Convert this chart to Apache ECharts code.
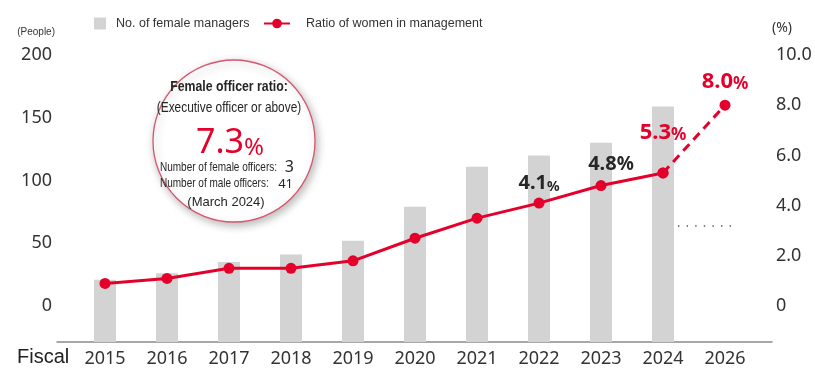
<!DOCTYPE html>
<html>
<head>
<meta charset="utf-8">
<script src="https://cdn.jsdelivr.net/npm/echarts@6/dist/echarts.min.js"></script>
<style>
  html, body { margin: 0; padding: 0; background: #ffffff; }
  #chart { width: 815px; height: 369px; }
</style>
</head>
<body>
<div id="chart"></div>
<script>
// Fiscal years on the category axis (2025 is not shown)
const fiscalYears = ['2015', '2016', '2017', '2018', '2019', '2020', '2021', '2022', '2023', '2024', '2026'];
// Number of female managers (people)
const femaleManagers = [21, 26, 35, 41, 52, 79, 111, 120, 130, 159, null];
// Ratio of women in management (%), results
const womenRatio = [0.9, 1.1, 1.5, 1.5, 1.8, 2.7, 3.5, 4.1, 4.8, 5.3, null];
// Ratio of women in management (%), path to the 2026 target
const womenRatioTarget = [null, null, null, null, null, null, null, null, null, 5.3, 8.0];
// Tick labels
const peopleTicks = [0, 50, 100, 150, 200];
const percentTicks = [0, 2, 4, 6, 8, 10];

const RED = '#e4002b';
const BAR = '#d3d3d3';
const DARK = '#262626';
const LIB = '"Liberation Sans", Arial, sans-serif';
const SANS = '"Noto Sans", "Open Sans", sans-serif';
const NARROW_SCALE = 0.82; // condensed look for the callout text

// Value labels shown above selected points
const labelStyles = {
  '2022': { cls: 'dark', pct: 'dsmall', offset: [0, 1] },
  '2023': { cls: 'dark', pct: 'dbig', offset: [10, -1] },
  '2024': { cls: 'red', pct: 'rsmall', offset: [0, -19] },
  '2026': { cls: 'red', pct: 'rsmall', offset: [0, -2] }
};
const richStyles = {
  dark:   { fontFamily: SANS, fontSize: 20, fontWeight: 'bold', color: DARK, verticalAlign: 'bottom', lineHeight: 24 },
  dsmall: { fontFamily: SANS, fontSize: 14, fontWeight: 'bold', color: DARK, verticalAlign: 'bottom', lineHeight: 22 },
  dbig:   { fontFamily: SANS, fontSize: 19, fontWeight: 'bold', color: DARK, verticalAlign: 'bottom', lineHeight: 24 },
  red:    { fontFamily: SANS, fontSize: 22, fontWeight: 'bold', color: RED, verticalAlign: 'bottom', lineHeight: 26 },
  rsmall: { fontFamily: SANS, fontSize: 17, fontWeight: 'bold', color: RED, verticalAlign: 'bottom', lineHeight: 25 }
};

function withLabels(values) {
  return values.map((v, i) => {
    const st = labelStyles[fiscalYears[i]];
    if (v == null || !st) return v;
    return {
      value: v,
      label: {
        show: true,
        position: 'top',
        offset: st.offset,
        formatter: '{' + st.cls + '|' + v.toFixed(1) + '}{' + st.pct + '|%}',
        rich: richStyles
      }
    };
  });
}

const solidData = withLabels(womenRatio);
const labelledTarget = withLabels(womenRatioTarget);
// the 2024 point already carries its label on the solid line
const targetData = womenRatioTarget.map((v, i) => (i === womenRatioTarget.length - 1 ? labelledTarget[i] : v));

function calloutText(x, y, text, size, opts) {
  opts = opts || {};
  return {
    type: 'text', x: x, y: y,
    scaleX: opts.narrow === false ? 1 : NARROW_SCALE,
    style: {
      text: text,
      fontFamily: opts.family || LIB,
      fontWeight: opts.bold ? 'bold' : 'normal',
      fontSize: size,
      fill: DARK,
      align: opts.align || 'center',
      verticalAlign: 'middle'
    }
  };
}

const chart = echarts.init(document.getElementById('chart'), null, { renderer: 'canvas' });

chart.setOption({
  animation: false,
  backgroundColor: '#ffffff',
  legend: [
    {
      left: 89, top: 12,
      itemWidth: 22, itemHeight: 12,
      data: [{ name: 'No. of female managers', icon: 'path://M0,0H12V12H0Z' }],
      textStyle: { fontFamily: LIB, fontSize: 12.5, color: '#333' },
      selectedMode: false
    },
    {
      left: 258, top: 12,
      itemWidth: 26, itemHeight: 12,
      data: ['Ratio of women in management'],
      textStyle: { fontFamily: LIB, fontSize: 12.5, color: '#333', padding: [0, 0, 0, 11] },
      selectedMode: false
    }
  ],
  grid: [
    { left: 74, right: 59, top: 55, bottom: 27 },
    { left: 57, right: 43, top: 55, bottom: 27 }
  ],
  xAxis: [
    {
      type: 'category',
      gridIndex: 0,
      data: fiscalYears,
      boundaryGap: true,
      axisLine: { show: false },
      axisTick: { show: false },
      axisLabel: { fontFamily: SANS, fontSize: 18, color: '#333', margin: 8 }
    },
    {
      type: 'value',
      gridIndex: 1,
      min: 0, max: 1,
      axisLine: { show: true, onZero: false, lineStyle: { color: '#8a8a8a', width: 1.5 } },
      axisTick: { show: false },
      axisLabel: { show: false },
      splitLine: { show: false }
    }
  ],
  yAxis: [
    {
      type: 'value',
      gridIndex: 0,
      min: -28.7, max: 200,
      name: '(People)',
      nameLocation: 'end',
      nameGap: 18,
      nameTextStyle: { fontFamily: LIB, fontSize: 10, color: '#333', align: 'right', padding: [0, 19, 0, 0] },
      axisLine: { show: false },
      axisTick: { show: false },
      splitLine: { show: false },
      axisLabel: { customValues: peopleTicks, fontFamily: SANS, fontSize: 18, color: '#333', margin: 22 }
    },
    {
      type: 'value',
      gridIndex: 0,
      position: 'right',
      min: -1.434, max: 10,
      name: '(%)',
      nameLocation: 'end',
      nameGap: 20,
      nameTextStyle: { fontFamily: SANS, fontSize: 14, color: '#333', align: 'left', padding: [0, 0, 0, 16] },
      axisLine: { show: false },
      axisTick: { show: false },
      splitLine: { show: false },
      axisLabel: {
        customValues: percentTicks,
        fontFamily: SANS, fontSize: 18, color: '#333', margin: 20,
        formatter: v => (v === 0 ? '0' : v.toFixed(1))
      }
    },
    { type: 'value', gridIndex: 1, show: false, min: 0, max: 1 }
  ],
  series: [
    {
      name: 'No. of female managers',
      type: 'custom',
      xAxisIndex: 0,
      yAxisIndex: 0,
      itemStyle: { color: BAR },
      encode: { x: 0, y: 1 },
      data: femaleManagers
        .map((v, i) => [i, v])
        .filter(d => d[1] != null),
      // bars rise from the bottom of the plot area
      renderItem(params, api) {
        const top = api.coord([api.value(0), api.value(1)]);
        const baseY = params.coordSys.y + params.coordSys.height;
        const w = 22;
        return {
          type: 'rect',
          shape: { x: top[0] - w / 2, y: top[1], width: w, height: baseY - top[1] },
          style: { fill: BAR }
        };
      },
      z: 1
    },
    {
      name: 'Ratio of women in management',
      type: 'line',
      xAxisIndex: 0,
      yAxisIndex: 1,
      data: solidData,
      symbol: 'circle',
      symbolSize: 11,
      lineStyle: { color: RED, width: 3 },
      itemStyle: { color: RED },
      z: 4
    },
    {
      name: 'Target',
      type: 'line',
      xAxisIndex: 0,
      yAxisIndex: 1,
      data: targetData,
      symbol: 'circle',
      symbolSize: 11,
      lineStyle: { color: RED, width: 3, type: [9, 6] },
      itemStyle: { color: RED },
      z: 3
    }
  ],
  graphic: [
    // Fiscal prefix for the year axis
    {
      type: 'text', left: 17, top: 347,
      style: { text: 'Fiscal', fontFamily: LIB, fontSize: 20, fill: '#222' }
    },
    // dotted divider to the right of 2024
    {
      type: 'line', z: 5,
      shape: { x1: 678, y1: 226, x2: 731, y2: 226 },
      style: { stroke: '#555', lineWidth: 1.3, lineDash: [1.4, 7.2] }
    },
    // Female officer ratio callout
    {
      type: 'group', z: 10,
      children: [
        {
          type: 'circle',
          shape: { cx: 234, cy: 141, r: 81 },
          style: {
            fill: '#ffffff', stroke: '#d6566e', lineWidth: 1.3,
            shadowBlur: 9, shadowColor: 'rgba(0,0,0,0.28)', shadowOffsetX: 2, shadowOffsetY: 3
          }
        },
        calloutText(229, 87, 'Female officer ratio:', 15, { bold: true }),
        calloutText(229, 108, '(Executive officer or above)', 14.5),
        {
          type: 'text', x: 230, y: 140,
          style: {
            text: '{n|7.3}{p|%}', align: 'center', verticalAlign: 'middle', fill: RED,
            rich: {
              n: { fontFamily: SANS, fontSize: 34, fill: RED, verticalAlign: 'bottom', lineHeight: 40 },
              p: { fontFamily: SANS, fontSize: 24, fill: RED, verticalAlign: 'bottom', lineHeight: 37 }
            }
          }
        },
        calloutText(160, 168, 'Number of female officers:', 12.2, { align: 'left' }),
        calloutText(294, 167, '3', 16, { align: 'right', family: SANS, narrow: false }),
        calloutText(160, 184, 'Number of male officers:', 12.2, { align: 'left' }),
        calloutText(293, 184, '41', 13, { align: 'right', family: SANS, narrow: false }),
        calloutText(226, 202, '(March 2024)', 13, { narrow: false })
      ]
    }
  ]
});
</script>
</body>
</html>
